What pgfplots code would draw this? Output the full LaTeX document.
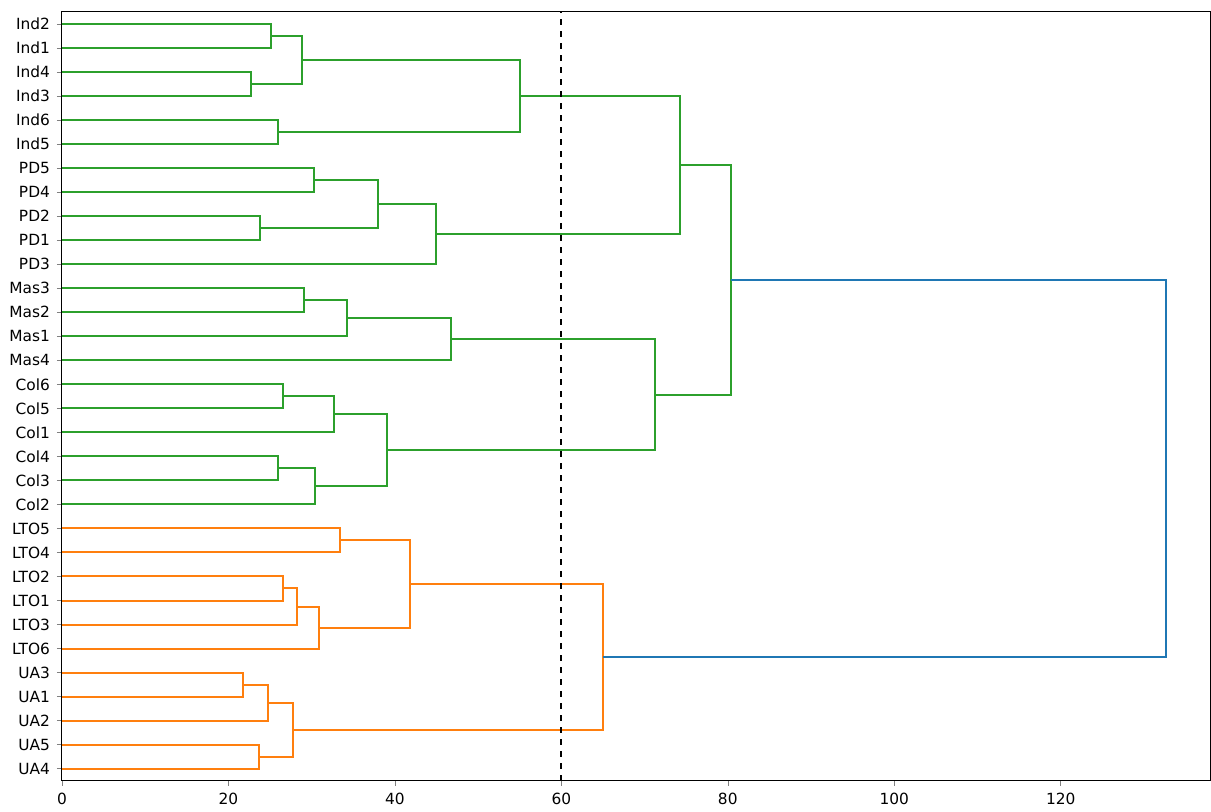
\documentclass[border=0pt]{standalone}
\usepackage{pgfplots}
\pgfplotsset{compat=1.18}
\usepackage{fontspec}
\setmainfont{DejaVu Sans}
\definecolor{cg}{HTML}{2CA02C}
\definecolor{co}{HTML}{FF7F0E}
\definecolor{cb}{HTML}{1F77B4}
\newcommand{\lk}[6]{\addplot[#1] coordinates {(#2,#3)(#4,#3)(#4,#6)(#5,#6)};}
\begin{document}
\begin{tikzpicture}
\begin{axis}[
  scale only axis, width=574.5pt, height=384.5pt,
  xmin=0, xmax=138, ymin=0, ymax=320,
  xtick={0,20,...,120},
  ytick={5,15,...,315},
  yticklabels={UA4,UA5,UA2,UA1,UA3,LTO6,LTO3,LTO1,LTO2,LTO4,LTO5,Col2,Col3,Col4,Col1,Col5,Col6,Mas4,Mas1,Mas2,Mas3,PD3,PD1,PD2,PD4,PD5,Ind5,Ind6,Ind3,Ind4,Ind1,Ind2},
  tick align=outside, tick pos=left, major tick length=2.5pt,
  tick label style={font=\fontsize{7.7}{9}\selectfont},
  /pgf/number format/assume math mode=true,
  every axis plot/.append style={line width=1pt},
  axis line style={line width=0.5pt},
  clip=false,
]
% UA
\lk{co}{0}{15}{23.7}{0}{5}
\lk{co}{0}{45}{21.7}{0}{35}
\lk{co}{21.7}{40}{24.7}{0}{25}
\lk{co}{23.7}{10}{27.7}{24.7}{32.5}
% LTO
\lk{co}{0}{85}{26.5}{0}{75}
\lk{co}{26.5}{80}{28.2}{0}{65}
\lk{co}{28.2}{72.5}{30.9}{0}{55}
\lk{co}{0}{105}{33.4}{0}{95}
\lk{co}{30.9}{63.75}{41.8}{33.4}{100}
\lk{co}{27.7}{21.25}{65.0}{41.8}{81.875}
% Col
\lk{cg}{0}{135}{25.9}{0}{125}
\lk{cg}{25.9}{130}{30.4}{0}{115}
\lk{cg}{0}{165}{26.5}{0}{155}
\lk{cg}{26.5}{160}{32.7}{0}{145}
\lk{cg}{30.4}{122.5}{39.0}{32.7}{152.5}
% Mas
\lk{cg}{0}{205}{29.1}{0}{195}
\lk{cg}{29.1}{200}{34.2}{0}{185}
\lk{cg}{34.2}{192.5}{46.8}{0}{175}
\lk{cg}{39.0}{137.5}{71.2}{46.8}{183.75}
% PD
\lk{cg}{0}{235}{23.8}{0}{225}
\lk{cg}{0}{255}{30.3}{0}{245}
\lk{cg}{23.8}{230}{38.0}{30.3}{250}
\lk{cg}{38.0}{240}{44.9}{0}{215}
% Ind
\lk{cg}{0}{275}{25.9}{0}{265}
\lk{cg}{0}{295}{22.7}{0}{285}
\lk{cg}{0}{315}{25.1}{0}{305}
\lk{cg}{22.7}{290}{28.8}{25.1}{310}
\lk{cg}{25.9}{270}{55.0}{28.8}{300}
\lk{cg}{44.9}{227.5}{74.2}{55.0}{285}
\lk{cg}{71.2}{160.625}{80.4}{74.2}{256.25}
% root
\lk{cb}{65.0}{51.56}{132.7}{80.4}{208.44}
\addplot[black, dashed, line width=1pt] coordinates {(60,0)(60,320)};
\end{axis}
\useasboundingbox (-31pt,-13pt) rectangle (574.5pt,390.5pt);
\end{tikzpicture}
\end{document}
